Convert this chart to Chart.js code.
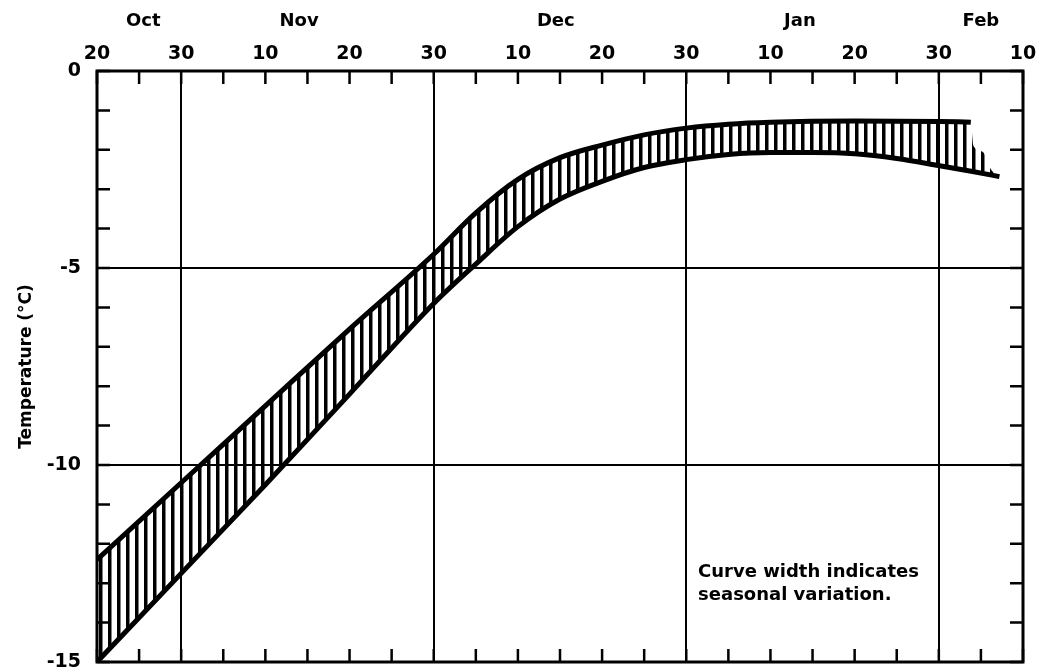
<!DOCTYPE html>
<html>
<head>
<meta charset="utf-8">
<script src="https://cdn.jsdelivr.net/npm/chart.js@4.4.1/dist/chart.umd.min.js"></script>
<style>
  html, body { margin: 0; padding: 0; background: #fff; }
</style>
</head>
<body>
<canvas id="tempChart" width="1048" height="667"></canvas>
<script>
/* x axis runs in days after Oct 20, ticks every 5 */
var dayTickLabels = ['20', '30', '10', '20', '30', '10', '20', '30', '10', '20', '30', '10'];
var monthNames = ['Oct', 'Nov', 'Dec', 'Jan', 'Feb'];
var monthDays = [5.5, 24, 54.5, 83.5, 105];
var gridDays = [10, 40, 70, 100];
var gridTemps = [-5, -10];

/* warm edge of the band */
var warmDays = [0, 10, 20, 30, 40, 45, 50, 55, 60, 65, 70, 75, 80, 90, 100, 103.8, 104.1, 105.2, 106.2, 107.2];
var warmTemps = [-12.4, -10.45, -8.5, -6.55, -4.65, -3.6, -2.75, -2.2, -1.88, -1.62, -1.45, -1.35, -1.3, -1.27, -1.28, -1.3, -1.9, -2.05, -2.5, -2.68];
var warmLineEnd = 103.8;

/* cold edge of the band */
var coldDays = [0, 10, 20, 30, 40, 45, 50, 55, 60, 65, 70, 75, 80, 85, 90, 95, 100, 104, 107.2];
var coldTemps = [-15, -12.75, -10.5, -8.2, -5.9, -4.9, -3.95, -3.25, -2.8, -2.45, -2.25, -2.12, -2.07, -2.07, -2.1, -2.22, -2.4, -2.55, -2.68];

var noteLines = ['Curve width indicates', 'seasonal variation.'];

var fontName = '"DejaVu Sans", "Liberation Sans", sans-serif';

function toPoints(xs, ys) {
	var pts = [];
	for (var i = 0; i < xs.length; i++) {
		pts.push({ x: xs[i], y: ys[i] });
	}
	return pts;
}

window.addEventListener("DOMContentLoaded", function () {
	const canvas = document.getElementById("tempChart");
	const ctx = canvas.getContext("2d");

	// vertical hatch for the band
	var tile = document.createElement("canvas");
	tile.width = 9;
	tile.height = 9;
	var tctx = tile.getContext("2d");
	tctx.fillStyle = "#000";
	tctx.fillRect(0, 0, 3.5, 9);
	var hatch = ctx.createPattern(tile, "repeat");

	var frameAndTicks = {
		id: 'frameAndTicks',
		afterDatasetsDraw: function (chart) {
			var c = chart.ctx;
			var a = chart.chartArea;
			var xs = chart.scales.x;
			var ys = chart.scales.y;
			c.save();
			c.strokeStyle = "#000";
			c.lineWidth = 3;
			c.strokeRect(a.left, a.top, a.right - a.left, a.bottom - a.top);
			c.lineWidth = 2.5;
			c.beginPath();
			xs.ticks.forEach(function (t) {
				var px = xs.getPixelForValue(t.value);
				c.moveTo(px, a.top);
				c.lineTo(px, a.top + 13);
				c.moveTo(px, a.bottom);
				c.lineTo(px, a.bottom - 13);
			});
			ys.ticks.forEach(function (t) {
				var py = ys.getPixelForValue(t.value);
				c.moveTo(a.left, py);
				c.lineTo(a.left + 13, py);
				c.moveTo(a.right, py);
				c.lineTo(a.right - 13, py);
			});
			c.stroke();

			c.fillStyle = "#000";
			c.font = "bold 18px " + fontName;
			c.textBaseline = "middle";
			c.textAlign = "left";
			var nx = xs.getPixelForValue(71.4);
			var ny = ys.getPixelForValue(-12.72);
			for (var i = 0; i < noteLines.length; i++) {
				c.fillText(noteLines[i], nx, ny + i * 23);
			}
			c.restore();
		}
	};

	const data = {
		datasets: [
			{
				data: toPoints(warmDays, warmTemps),
				borderColor: "#000",
				borderWidth: 5,
				backgroundColor: hatch,
				fill: '+1',
				pointRadius: 0,
				cubicInterpolationMode: 'monotone',
				segment: {
					borderColor: function (s) {
						return s.p0.parsed.x >= warmLineEnd ? 'rgba(0,0,0,0)' : '#000';
					}
				}
			},
			{
				data: toPoints(coldDays, coldTemps),
				borderColor: "#000",
				borderWidth: 5,
				fill: false,
				pointRadius: 0,
				cubicInterpolationMode: 'monotone'
			}
		]
	};

	const options = {
		responsive: false,
		animation: false,
		layout: { padding: { left: 0, right: 25, top: 0, bottom: 5 } },
		plugins: {
			legend: { display: false },
			tooltip: { enabled: false }
		},
		scales: {
			x: {
				type: 'linear',
				position: 'top',
				min: 0,
				max: 110,
				weight: 0,
				afterFit: function (s) { s.height = 28; },
				border: { display: false },
				grid: {
					drawTicks: false,
					lineWidth: 2,
					color: function (g) {
						return gridDays.indexOf(g.tick.value) >= 0 ? '#000' : 'rgba(0,0,0,0)';
					}
				},
				ticks: {
					stepSize: 5,
					autoSkip: false,
					maxRotation: 0,
					padding: 6,
					color: '#000',
					font: { family: fontName, size: 19, weight: 'bold' },
					callback: function (v) {
						return v % 10 === 0 ? dayTickLabels[v / 10] : '';
					}
				}
			},
			xMonth: {
				type: 'linear',
				position: 'top',
				min: 0,
				max: 110,
				weight: 1,
				afterFit: function (s) { s.height = 43; },
				afterBuildTicks: function (s) {
					s.ticks = monthDays.map(function (v) { return { value: v }; });
				},
				border: { display: false },
				grid: { display: false },
				ticks: {
					autoSkip: false,
					maxRotation: 0,
					padding: 3,
					color: '#000',
					font: { family: fontName, size: 18, weight: 'bold' },
					callback: function (v, i) { return monthNames[i]; }
				}
			},
			y: {
				min: -15,
				max: 0,
				afterFit: function (s) {
					s.width = 97;
					s.paddingTop = 0;
					s.paddingBottom = 0;
				},
				border: { display: false },
				grid: {
					drawTicks: false,
					lineWidth: 2,
					color: function (g) {
						return gridTemps.indexOf(g.tick.value) >= 0 ? '#000' : 'rgba(0,0,0,0)';
					}
				},
				ticks: {
					stepSize: 1,
					autoSkip: false,
					padding: 16,
					color: '#000',
					font: { family: fontName, size: 19, weight: 'bold' },
					callback: function (v) {
						return v % 5 === 0 ? String(v) : '';
					}
				},
				title: {
					display: true,
					text: 'Temperature (°C)',
					color: '#000',
					padding: { top: 16, bottom: 0 },
					font: { family: fontName, size: 17, weight: 'bold' }
				}
			}
		}
	};

	var myChart = new Chart(ctx, {
		type: 'line',
		data,
		options,
		plugins: [frameAndTicks]
	});
}, false);
</script>
</body>
</html>
